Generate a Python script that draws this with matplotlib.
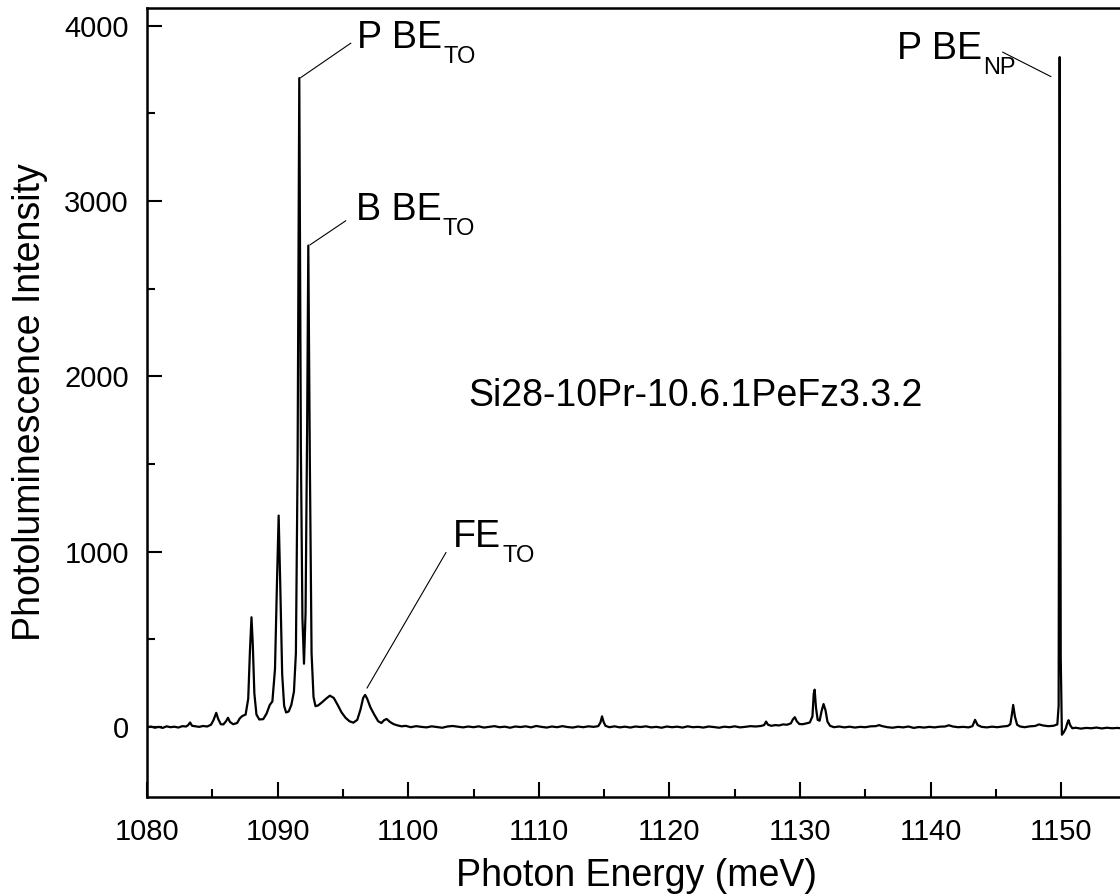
import matplotlib.pyplot as plt
from matplotlib.ticker import MultipleLocator

plt.rcParams['font.family'] = ['Liberation Sans', 'DejaVu Sans']

# PL spectrum, photon energy (meV) vs. intensity (counts)
energy_mev = [
    1080.0, 1080.3, 1080.6, 1080.9, 1081.2, 1081.5, 1081.8, 1082.1, 1082.4, 1082.7,
    1083.0, 1083.15, 1083.3, 1083.45, 1083.7, 1084.0, 1084.3, 1084.6, 1084.9, 1085.1,
    1085.3, 1085.45, 1085.65, 1085.85, 1086.05, 1086.2, 1086.35, 1086.6, 1086.9, 1087.1,
    1087.3, 1087.55, 1087.75, 1087.88, 1088.0, 1088.1, 1088.22, 1088.38, 1088.6, 1088.9,
    1089.15, 1089.4, 1089.6, 1089.8, 1089.95, 1090.08, 1090.2, 1090.35, 1090.5, 1090.65,
    1090.85, 1091.05, 1091.25, 1091.4, 1091.53, 1091.66, 1091.78, 1091.9, 1092.02, 1092.14,
    1092.26, 1092.35, 1092.47, 1092.6, 1092.75, 1092.9, 1093.1, 1093.4, 1093.7, 1094.0,
    1094.3, 1094.6, 1094.9, 1095.2, 1095.5, 1095.8, 1096.1, 1096.35, 1096.55, 1096.7,
    1096.85, 1097.1, 1097.4, 1097.7, 1097.95, 1098.15, 1098.35, 1098.6, 1098.9, 1099.2,
    1099.5, 1099.8,
    1100.2, 1100.6, 1101.0, 1101.4, 1101.8, 1102.2, 1102.6, 1103.0, 1103.4, 1103.8,
    1104.2, 1104.6, 1105.0, 1105.4, 1105.8, 1106.2, 1106.6, 1107.0, 1107.4, 1107.8,
    1108.2, 1108.6, 1109.0, 1109.4, 1109.8, 1110.2, 1110.6, 1111.0, 1111.4, 1111.8,
    1112.2, 1112.6, 1113.0, 1113.4, 1113.8, 1114.2, 1114.55, 1114.72, 1114.84, 1114.96,
    1115.1, 1115.4, 1115.8, 1116.2, 1116.6, 1117.0, 1117.4, 1117.8, 1118.2, 1118.6,
    1119.0, 1119.4, 1119.8, 1120.2, 1120.6, 1121.0, 1121.4, 1121.8, 1122.2, 1122.6,
    1123.0, 1123.4, 1123.8, 1124.2, 1124.6, 1125.0, 1125.4, 1125.8, 1126.2, 1126.6,
    1127.0, 1127.25, 1127.4, 1127.55, 1127.8, 1128.1, 1128.4, 1128.7, 1129.0, 1129.3,
    1129.45, 1129.6, 1129.75, 1129.95, 1130.2, 1130.5, 1130.75, 1130.95, 1131.05, 1131.12,
    1131.22, 1131.35, 1131.5, 1131.65, 1131.8, 1131.95, 1132.1, 1132.3, 1132.6, 1133.0,
    1133.4, 1133.8, 1134.2, 1134.6, 1135.0, 1135.4, 1135.8, 1136.05, 1136.3, 1136.7,
    1137.1, 1137.5, 1137.9, 1138.3, 1138.7, 1139.1, 1139.5, 1139.9, 1140.3, 1140.7,
    1141.1, 1141.4, 1141.7, 1142.1, 1142.5, 1142.9, 1143.2, 1143.4, 1143.6, 1143.9,
    1144.3, 1144.7, 1145.1, 1145.5, 1145.9, 1146.1, 1146.22, 1146.32, 1146.45, 1146.62,
    1146.85, 1147.2, 1147.6, 1148.0, 1148.3, 1148.6, 1149.0, 1149.4, 1149.7, 1149.8,
    1149.88, 1149.96, 1150.05, 1150.2, 1150.35, 1150.48, 1150.56, 1150.68, 1150.85, 1151.1,
    1151.5, 1151.9, 1152.3, 1152.7, 1153.1, 1153.5, 1153.9, 1154.3, 1154.7, 1155.1,
]
pl_intensity = [
    -3, 2, -5, 0, -6, 3, -2, 1, -4, 4,
    2, 10, 25, 6, 3, 0, 5, 2, 12, 40,
    80, 45, 15, 14, 32, 52, 28, 15, 22, 48,
    62, 70, 160, 430, 625, 470, 190, 70, 42, 44,
    75, 125, 145, 330, 820, 1205, 820, 300, 120, 82,
    88, 125, 200, 420, 1500, 3700, 1600, 620, 360, 650,
    1700, 2745, 1500, 420, 170, 118, 122, 140, 160, 178,
    165, 125, 82, 52, 32, 24, 40, 100, 165, 182,
    162, 112, 70, 32, 22, 38, 45, 28, 15, 8,
    3, 6,
    -2, 4, 0, -3, 3, -1, -5, 2, 5, 1,
    -3, 2, -2, 3, -4, 0, 4, -2, 1, -5,
    2, -1, 3, -3, 5, 0, -4, 2, -2, 4,
    -1, -4, 2, -2, 3, 0, 4, 25, 60, 28,
    6, -2, 3, -3, 1, -4, 2, -1, 3, -3,
    0, -5, 2, -2, 1, -4, 3, -2, 0, -4,
    2, -1, -5, 1, -2, 3, -3, 0, 4, 2,
    5, 10, 30, 12, 6, 10, 8, 14, 12, 20,
    42, 55, 32, 16, 15, 20, 25, 60, 190, 212,
    110, 40, 35, 90, 130, 95, 30, 6, -2, 2,
    -3, 1, -4, 0, -2, 3, 4, 10, 4, -2,
    -5, 0, -3, 2, -6, -1, -4, 0, -3, 1,
    2, 9, 2, -2, 0, -3, 4, 40, 10, 0,
    -3, 1, -2, 2, 5, 15, 70, 125, 60, 12,
    2, -2, 3, 5, 14, 8, 4, 6, 14, 120,
    3820, 400, -45, -30, -8, 25, 38, 10, -8, -5,
    -10, -6, -8, -4, -9, -5, -8, -6, -9, -7,
]

fig = plt.figure(figsize=(11.2, 8.96), dpi=100)
# right edge of the frame sits just past the canvas
ax = fig.add_axes([0.13125, 0.1105, 0.8746, 0.8806])

ax.plot(energy_mev, pl_intensity, color='black', lw=1.6)

ax.set_xlim(1080, 1155)
ax.set_ylim(-400, 4100)
ax.xaxis.set_major_locator(MultipleLocator(10))
ax.xaxis.set_minor_locator(MultipleLocator(5))
ax.yaxis.set_major_locator(MultipleLocator(1000))
ax.yaxis.set_minor_locator(MultipleLocator(500))
ax.tick_params(which='both', direction='in', width=1.5, labelsize=21)
ax.tick_params(which='major', length=11)
ax.tick_params(which='minor', length=5.5)
ax.tick_params(axis='x', pad=15)
ax.tick_params(axis='y', pad=13)
for spine in ax.spines.values():
    spine.set_linewidth(1.8)

ax.set_xlabel('Photon Energy (meV)', fontsize=27, labelpad=9)
ax.set_ylabel('Photoluminescence Intensity', fontsize=27, labelpad=12)

# peak labels: (main, subscript, text x/y, leader start x/y, leader end x/y)
peak_labels = [
    ('P BE', 'TO', (1096.08, 3871), (1095.6, 3899), (1091.77, 3703)),
    ('B BE', 'TO', (1096.0, 2892), (1095.21, 2886), (1092.48, 2749)),
    ('P BE', 'NP', (1137.45, 3808), (1145.52, 3848), (1149.2, 3709)),
    ('FE', 'TO', (1103.45, 1023), (1102.89, 994), (1096.85, 222)),
]
for main, sub, txy, p0, p1 in peak_labels:
    ax.plot([p0[0], p1[0]], [p0[1], p1[1]], color='black', lw=0.8)
    t = ax.text(txy[0], txy[1], main, fontsize=27, ha='left', va='baseline')
    ax.annotate(sub, xy=(1, 0), xycoords=t, xytext=(1, -7),
                textcoords='offset pixels', fontsize=17,
                ha='left', va='baseline')

ax.text(1104.6, 1832, 'Si28-10Pr-10.6.1PeFz3.3.2', fontsize=27,
        ha='left', va='baseline')

fig.savefig('out.png', dpi=100)
